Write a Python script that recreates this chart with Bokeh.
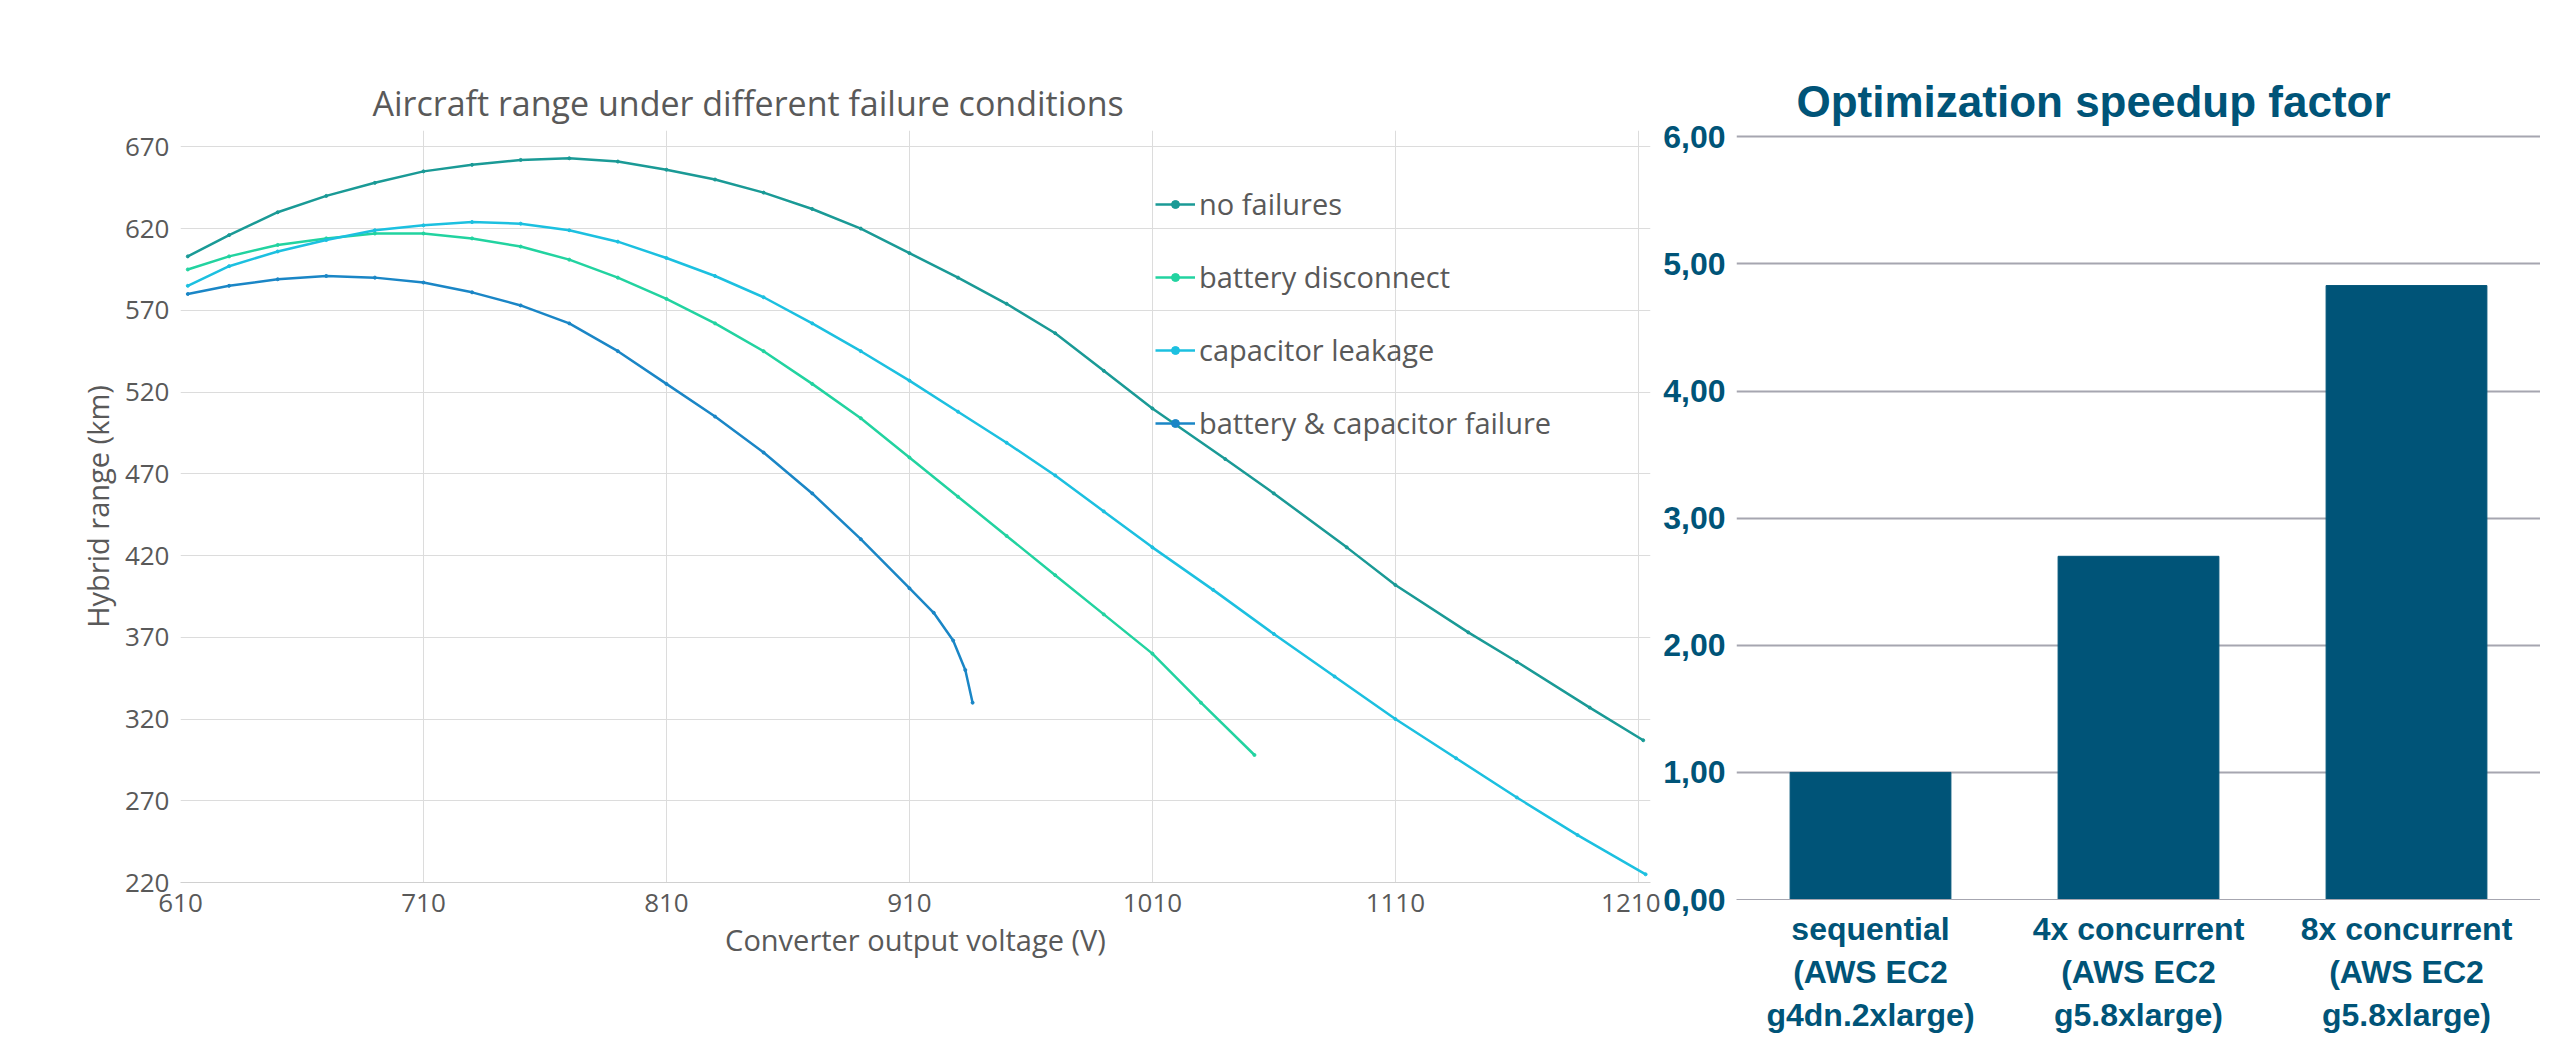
from bokeh.plotting import figure
from bokeh.layouts import row
from bokeh.models import Legend, LegendItem, FixedTicker, CustomJSTickFormatter, Range1d, FactorRange
from bokeh.embed import file_html
from bokeh.resources import INLINE

nf_x = [613, 630, 650, 670, 690, 710, 730, 750, 770, 790, 810, 830, 850, 870, 890, 910, 930, 950, 970, 990, 1010, 1040, 1060, 1090, 1110, 1140, 1160, 1190, 1212]
nf_y = [603, 616, 630, 640, 648, 655, 659, 662, 663, 661, 656, 650, 642, 632, 620, 605, 590, 574, 556, 533, 510, 479, 458, 425, 402, 373, 355, 327, 307]
bd_x = [613, 630, 650, 670, 690, 710, 730, 750, 770, 790, 810, 830, 850, 870, 890, 910, 930, 950, 970, 990, 1010, 1030, 1052]
bd_y = [595, 603, 610, 614, 617, 617, 614, 609, 601, 590, 577, 562, 545, 525, 504, 480, 456, 432, 408, 384, 360, 330, 298]
cl_x = [613, 630, 650, 670, 690, 710, 730, 750, 770, 790, 810, 830, 850, 870, 890, 910, 930, 950, 970, 990, 1010, 1035, 1060, 1085, 1110, 1135, 1160, 1185, 1213]
cl_y = [585, 597, 606, 613, 619, 622, 624, 623, 619, 612, 602, 591, 578, 562, 545, 527, 508, 489, 469, 447, 425, 399, 372, 346, 320, 296, 272, 249, 225]
bc_x = [613, 630, 650, 670, 690, 710, 730, 750, 770, 790, 810, 830, 850, 870, 890, 910, 920, 928, 933, 936]
bc_y = [580, 585, 589, 591, 590, 587, 581, 573, 562, 545, 525, 505, 483, 458, 430, 400, 385, 368, 350, 330]
names = ["no failures", "battery disconnect", "capacitor leakage", "battery & capacitor failure"]
colors = ["#1a9a96", "#22d3a0", "#1cc0e0", "#1a86c6"]

cats = ["sequential\n(AWS EC2\ng4dn.2xlarge)", "4x concurrent\n(AWS EC2\ng5.8xlarge)", "8x concurrent\n(AWS EC2\ng5.8xlarge)"]
speed = [1.00, 2.70, 4.83]

grey = "#595959"
p = figure(frame_width=1470, frame_height=752, output_backend="svg", toolbar_location=None,
           x_range=Range1d(610, 1215), y_range=Range1d(220, 680),
           title="Aircraft range under different failure conditions",
           min_border_right=10, min_border_top=130, min_border_left=180)
p.title.align = "left"
p.title.text_font = "Open Sans"
p.title.text_font_size = "34px"
p.title.text_font_style = "normal"
p.title.text_color = grey
p.title.offset = 192
items = []
for xs, ys, n, c in zip([nf_x, bd_x, cl_x, bc_x], [nf_y, bd_y, cl_y, bc_y], names, colors):
    l = p.line(xs, ys, color=c, line_width=2.5)
    s = p.scatter(xs, ys, color=c, size=3)
    items.append(LegendItem(label=n, renderers=[l, s]))
leg = Legend(items=items, location=(975, 440), border_line_color=None, background_fill_alpha=0,
             label_text_font="Open Sans", label_text_font_size="29px", label_text_color=grey,
             spacing=34, glyph_width=40, label_standoff=4, margin=0)
p.add_layout(leg)
p.xaxis.ticker = FixedTicker(ticks=list(range(610, 1211, 100)))
p.yaxis.ticker = FixedTicker(ticks=list(range(220, 671, 50)))
p.xaxis.axis_label = "Converter output voltage (V)"
p.yaxis.axis_label = "Hybrid range (km)"
for ax in (p.xaxis, p.yaxis):
    ax.axis_label_text_font = "Open Sans"
    ax.axis_label_text_font_size = "29px"
    ax.axis_label_text_font_style = "normal"
    ax.axis_label_text_color = grey
    ax.major_label_text_font = "Open Sans"
    ax.major_label_text_font_size = "26px"
    ax.major_label_text_color = grey
    ax.major_tick_line_color = None
    ax.minor_tick_line_color = None
p.yaxis.axis_line_color = None
p.xaxis.axis_line_color = "#d0d0d0"
p.grid.grid_line_color = "#dcdcdc"
p.outline_line_color = None

blue = "#005478"
b = figure(width=880, height=1035, output_backend="svg", toolbar_location=None,
           x_range=FactorRange(*cats), y_range=Range1d(0, 6.05),
           title="Optimization speedup factor", min_border_right=0, min_border_top=10)
b.title.text_font = "Liberation Sans"
b.title.text_font_size = "44px"
b.title.text_font_style = "bold"
b.title.text_color = blue
b.title.offset = 60
b.vbar(x=cats, top=speed, width=0.6, color=blue)
b.yaxis.ticker = FixedTicker(ticks=[0, 1, 2, 3, 4, 5, 6])
b.yaxis.formatter = CustomJSTickFormatter(code="return tick.toFixed(2).replace('.', ',');")
for ax in (b.xaxis, b.yaxis):
    ax.major_label_text_font = "Liberation Sans"
    ax.major_label_text_font_size = "32px"
    ax.major_label_text_font_style = "bold"
    ax.major_label_text_color = blue
    ax.axis_line_color = None
    ax.major_tick_line_color = None
    ax.minor_tick_line_color = None
b.xaxis.axis_line_color = "#a6a6b0"
b.xgrid.grid_line_color = None
b.ygrid.grid_line_color = "#a6a6b0"
b.ygrid.grid_line_width = 2
b.outline_line_color = None

layout = row(p, b)
open("out.html", "w").write(file_html(layout, INLINE))
